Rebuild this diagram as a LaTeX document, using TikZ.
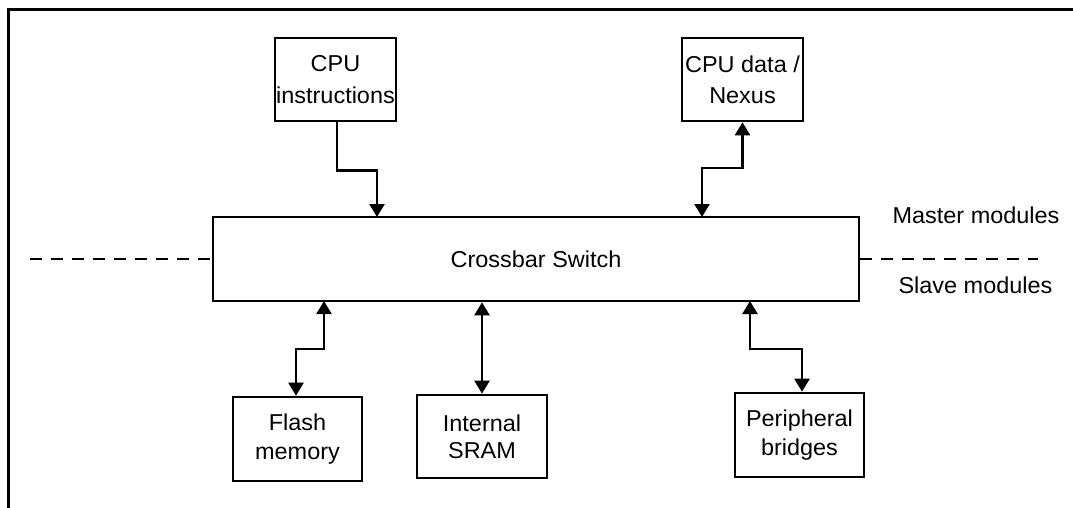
\documentclass[tikz,border=0pt]{standalone}
\usepackage{fontspec}
\setmainfont{Liberation Sans}[FakeStretch=1.02]
\usetikzlibrary{arrows.meta}
\tikzset{
  box/.style={draw, line width=2.6pt, inner sep=0pt, align=center, font=\fontsize{23}{29}\selectfont},
  conn/.style={line width=2.4pt, {Triangle[length=13pt,width=15pt]}-{Triangle[length=13pt,width=15pt]}},
  conn1/.style={line width=2.4pt, -{Triangle[length=13pt,width=15pt]}},
  sep/.style={line width=2pt, dash pattern=on 12pt off 9pt},
  lbl/.style={anchor=base, inner sep=0pt, font=\fontsize{23}{29}\selectfont},
  frame/.style={line width=3pt}
}
\begin{document}
\begin{tikzpicture}[x=1pt,y=-1pt]
\useasboundingbox (0,0) rectangle (1073,508);
\draw[frame] (1073,10) -- (8,10) -- (8,508);
\node[box, minimum width=121pt, minimum height=83pt] (cpui) at (335.5,79.5) {CPU\\[3pt]instructions};
\node[box, minimum width=121pt, minimum height=83pt] (cpud) at (742.5,79.5) {CPU data /\\[2pt]Nexus};
\node[box, minimum width=646pt, minimum height=84pt] (xbar) at (536,259) {Crossbar Switch};
\node[box, minimum width=129pt, minimum height=84pt] (flash) at (297.5,439) {Flash\\memory};
\node[box, minimum width=130pt, minimum height=83pt] (sram) at (482,436.5) {Internal\\[-2pt]SRAM};
\node[box, minimum width=129pt, minimum height=84pt] (peri) at (799.5,435) {Peripheral\\bridges};
\node[lbl] (master) at (976,223) {Master modules};
\node[lbl] (slave) at (975.5,293) {Slave modules};
\coordinate (xi) at (377,217);
\coordinate (xd) at (702,217);
\coordinate (xf) at (324,301);
\coordinate (xp) at (750,301);
\coordinate (dl) at (30,259);
\coordinate (dr) at (1038,259);
\draw[conn1] ([xshift=1.5pt]cpui.south) -- ++(0,48) -| (xi);
\draw[conn] (xd) -- ++(0,-49) -| (cpud.south);
\draw[conn] (xf) -- ++(0,48) -| ([xshift=-1.5pt]flash.north);
\draw[conn] (sram.north |- xbar.south) -- (sram.north);
\draw[conn] (xp) -- ++(0,48) -| ([xshift=2.5pt]peri.north);
\draw[sep] (dl) -- (xbar.west);
\draw[sep] (xbar.east) -- (dr);
\end{tikzpicture}
\end{document}
